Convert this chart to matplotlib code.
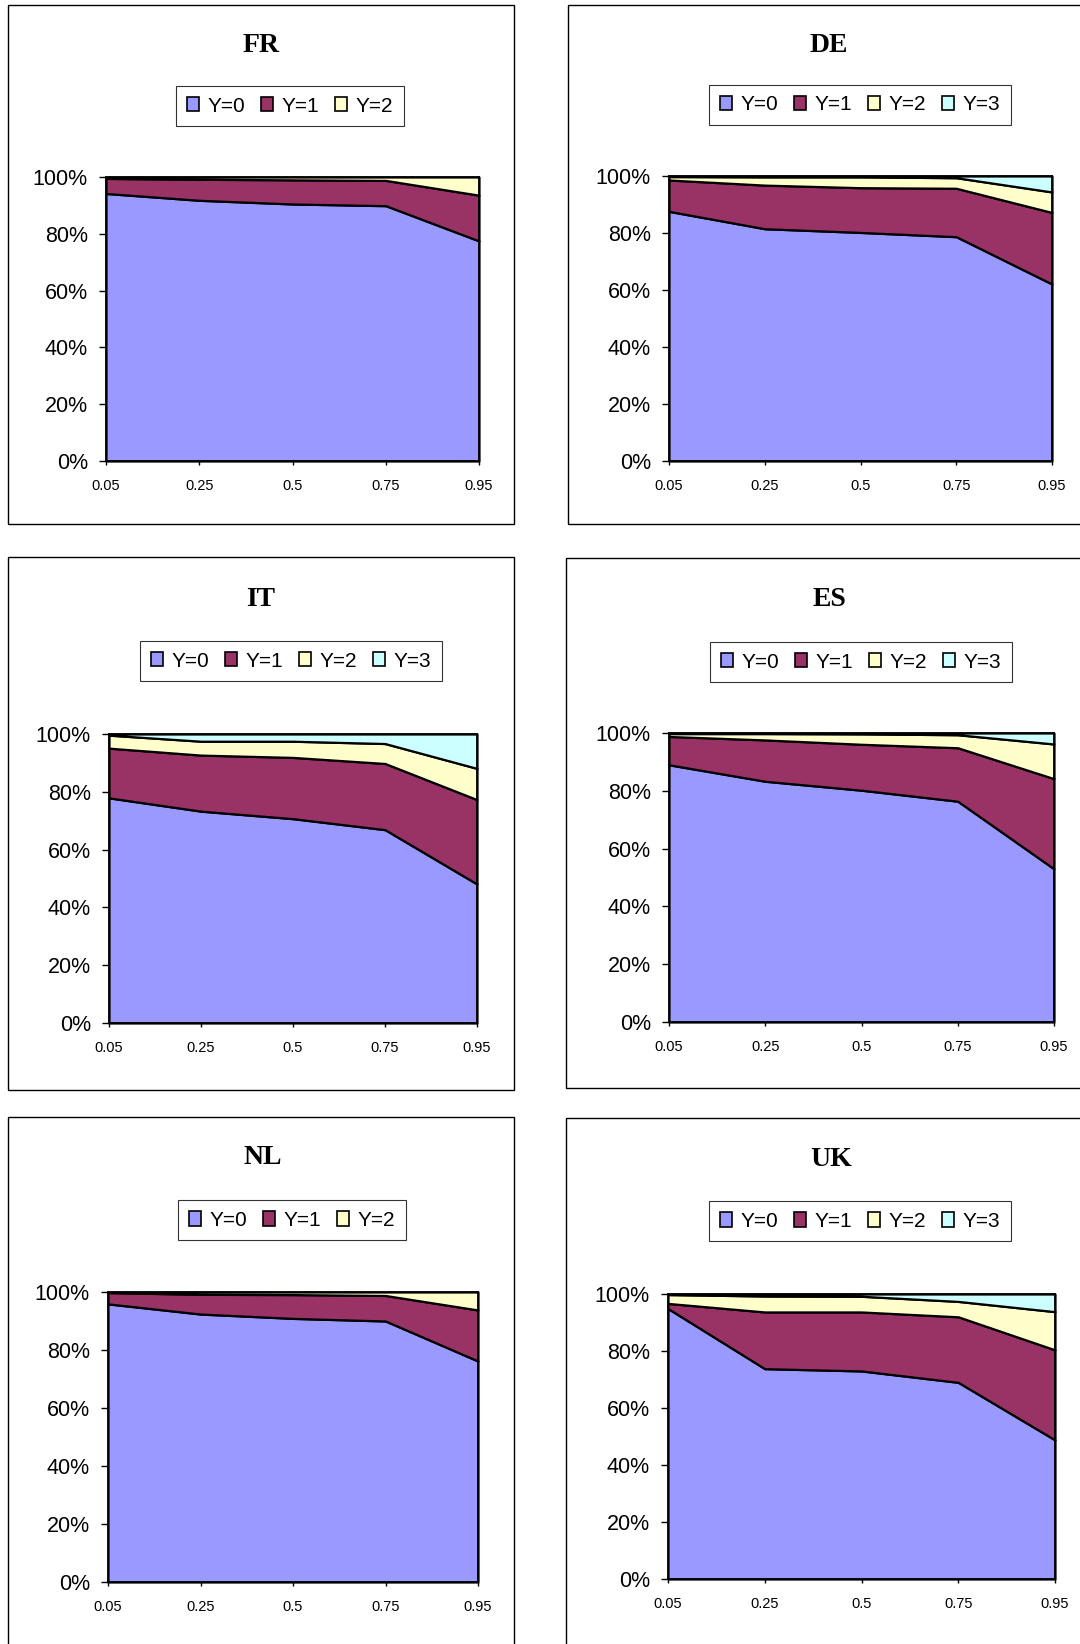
import matplotlib
matplotlib.use("Agg")
import matplotlib.pyplot as plt
from matplotlib.patches import Patch, Rectangle

plt.rcParams["font.family"] = ["Liberation Sans", "DejaVu Sans"]

# quantiles on the x axis (categories)
quantiles = ["0.05", "0.25", "0.5", "0.75", "0.95"]
y_labels = ["Y=0", "Y=1", "Y=2", "Y=3"]

# shares in percent for each outcome
fr_y0 = [94.2, 91.8, 90.5, 89.9, 77.5]
fr_y1 = [5.3, 7.4, 8.5, 8.9, 16.1]
fr_y2 = [0.5, 0.8, 1.0, 1.2, 6.4]

de_y0 = [87.6, 81.5, 80.2, 78.7, 62.1]
de_y1 = [11.0, 15.3, 15.7, 17.0, 25.1]
de_y2 = [1.2, 2.9, 3.8, 3.7, 7.2]
de_y3 = [0.2, 0.3, 0.3, 0.6, 5.6]

it_y0 = [77.9, 73.3, 70.7, 66.9, 48.1]
it_y1 = [17.2, 19.4, 21.2, 22.9, 29.2]
it_y2 = [4.5, 4.8, 5.6, 6.9, 10.8]
it_y3 = [0.4, 2.5, 2.5, 3.3, 11.9]

es_y0 = [89.0, 83.3, 80.2, 76.4, 53.0]
es_y1 = [9.8, 14.3, 15.9, 18.5, 31.2]
es_y2 = [1.0, 2.2, 3.6, 4.5, 12.0]
es_y3 = [0.2, 0.2, 0.3, 0.6, 3.8]

nl_y0 = [95.9, 92.4, 90.9, 90.0, 76.2]
nl_y1 = [3.9, 6.8, 8.2, 8.8, 17.6]
nl_y2 = [0.2, 0.8, 0.9, 1.2, 6.2]

uk_y0 = [94.9, 73.8, 73.0, 69.0, 48.8]
uk_y1 = [1.8, 19.9, 20.7, 23.0, 31.6]
uk_y2 = [3.1, 5.6, 5.5, 5.4, 13.4]
uk_y3 = [0.2, 0.7, 0.8, 2.6, 6.2]

colors = ["#9999FF", "#993366", "#FFFFCC", "#CCFFFF"]

W, H = 1080, 1644
fig = plt.figure(figsize=(W / 100, H / 100), dpi=100)
fig.patch.set_facecolor("white")


def fx(x):
    return x / W


def fy(y):
    return 1 - y / H


def panel(name, series, box, plot, title_xy, legend_xy):
    # chart border
    l, t, r, b = box
    fig.patches.append(Rectangle((fx(l), fy(b)), fx(r - l), (b - t) / H,
                                 transform=fig.transFigure, fill=False,
                                 edgecolor="black", lw=1.0, zorder=0))
    pl, pt, pr, pb = plot
    ax = fig.add_axes([fx(pl), fy(pb), fx(pr - pl), (pb - pt) / H])
    x = list(range(len(quantiles)))
    polys = ax.stackplot(x, *series, colors=colors[:len(series)],
                         edgecolor="black", linewidth=1.6)
    for p in polys:
        p.set_clip_on(False)
    ax.set_xlim(0, len(quantiles) - 1)
    ax.set_ylim(0, 100)
    ax.set_yticks([0, 20, 40, 60, 80, 100])
    ax.set_yticklabels([f"{v}%" for v in range(0, 101, 20)], fontsize=15.5)
    ax.set_xticks(x)
    ax.set_xticklabels(quantiles, fontsize=10.5)
    ax.tick_params(axis="y", length=5, width=1, pad=8, direction="out")
    ax.tick_params(axis="x", length=3, width=1, pad=10, direction="out")
    for s in ax.spines.values():
        s.set_color("black")
        s.set_linewidth(1.2)
    ax.set_facecolor("white")

    fig.text(fx(title_xy[0]), fy(title_xy[1]), name, ha="center", va="center",
             fontsize=20, fontweight="bold", family="Liberation Serif")

    handles = [Patch(facecolor=colors[i], edgecolor="black", lw=1.2,
                     label=y_labels[i]) for i in range(len(series))]
    leg = fig.legend(handles=handles, loc="center",
                     bbox_to_anchor=(fx(legend_xy[0]), fy(legend_xy[1])),
                     ncol=len(series), fontsize=15, frameon=True,
                     fancybox=False, handlelength=0.6, handleheight=0.7,
                     handletextpad=0.4, columnspacing=0.75, borderpad=0.5,
                     borderaxespad=0)
    leg.get_frame().set_edgecolor("black")
    leg.get_frame().set_linewidth(0.8)


panel("FR", [fr_y0, fr_y1, fr_y2], (8, 5, 514, 524), (106, 177, 479, 461),
      (261, 45), (290, 106))
panel("DE", [de_y0, de_y1, de_y2, de_y3], (568, 5, 1090, 524),
      (669, 176, 1052, 461), (829, 45), (860, 105))
panel("IT", [it_y0, it_y1, it_y2, it_y3], (8, 557, 514, 1090),
      (109, 734, 477, 1023), (261, 599), (291, 661))
panel("ES", [es_y0, es_y1, es_y2, es_y3], (566, 558, 1090, 1088),
      (669, 733, 1054, 1022), (829, 600), (861, 662))
panel("NL", [nl_y0, nl_y1, nl_y2], (8, 1117, 514, 1660),
      (108, 1292, 478, 1582), (263, 1157), (292, 1220))
panel("UK", [uk_y0, uk_y1, uk_y2, uk_y3], (566, 1118, 1090, 1660),
      (668, 1294, 1055, 1579), (831, 1159), (860, 1221))

fig.savefig("out.png", dpi=100, facecolor="white")
